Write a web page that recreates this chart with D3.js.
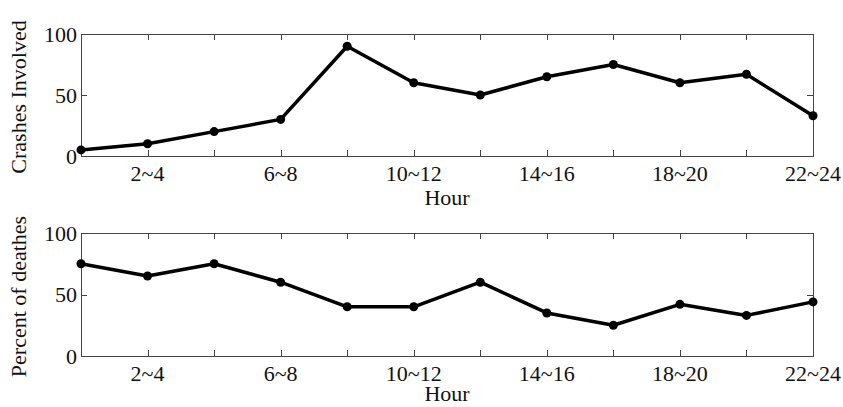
<!DOCTYPE html>
<html lang="en">
<head>
    <meta charset="UTF-8">
    <title>Crashes by hour</title>
    <script src="https://d3js.org/d3.v7.min.js"></script>
    <style>
        body { margin: 0; background: #fff; }
        svg { display: block; font-family: "Liberation Serif", "Times New Roman", serif; }
        .frame { fill: none; stroke: #444; stroke-width: 1px; }
        .tick-mark { stroke: #444; stroke-width: 1px; }
        .series { fill: none; stroke: #000; stroke-width: 3.5px; stroke-linejoin: round; }
        .dot { fill: #000; }
        text { fill: #111; font-size: 22px; }
    </style>
</head>
<body>
    <svg id="svg" width="843" height="407"></svg>
    <script>
        // hour bins, labels shown on every other one
        const hours = ["0~2", "2~4", "4~6", "6~8", "8~10", "10~12", "12~14", "14~16", "16~18", "18~20", "20~22", "22~24"];
        const shownLabels = ["2~4", "6~8", "10~12", "14~16", "18~20", "22~24"];
        const yTicks = [0, 50, 100];

        const crashes = [5, 10, 20, 30, 90, 60, 50, 65, 75, 60, 67, 33];
        const deaths = [75, 65, 75, 60, 40, 40, 60, 35, 25, 42, 33, 44];

        const svg = d3.select("#svg");

        const left = 81, right = 813;

        const x = d3.scalePoint()
            .domain(hours)
            .range([left, right]);

        const panels = [
            {values: crashes, label: "Crashes Involved", top: 34, bottom: 156, hourY: 205},
            {values: deaths, label: "Percent of deathes", top: 233, bottom: 356, hourY: 401}
        ];

        panels.forEach(p => {
            const y = d3.scaleLinear().domain([0, 100]).range([p.bottom, p.top]);
            const g = svg.append("g");

            // frame
            g.append("rect")
                .attr("class", "frame")
                .attr("x", left + 0.5)
                .attr("y", p.top + 0.5)
                .attr("width", right - left)
                .attr("height", p.bottom - p.top);

            // x ticks, inward on top and bottom
            hours.forEach(h => {
                const px = Math.round(x(h)) + 0.5;
                g.append("line").attr("class", "tick-mark")
                    .attr("x1", px).attr("x2", px)
                    .attr("y1", p.bottom).attr("y2", p.bottom - 6);
                g.append("line").attr("class", "tick-mark")
                    .attr("x1", px).attr("x2", px)
                    .attr("y1", p.top).attr("y2", p.top + 6);
            });

            // y ticks, inward on left and right
            yTicks.forEach(t => {
                const py = Math.round(y(t)) + 0.5;
                g.append("line").attr("class", "tick-mark")
                    .attr("x1", left).attr("x2", left + 6)
                    .attr("y1", py).attr("y2", py);
                g.append("line").attr("class", "tick-mark")
                    .attr("x1", right).attr("x2", right - 6)
                    .attr("y1", py).attr("y2", py);
                g.append("text")
                    .attr("x", left - 4)
                    .attr("y", y(t))
                    .attr("dy", "0.35em")
                    .attr("text-anchor", "end")
                    .text(t);
            });

            // x tick labels
            g.selectAll(".xlab")
                .data(shownLabels)
                .enter().append("text")
                .attr("class", "xlab")
                .attr("x", d => x(d))
                .attr("y", p.bottom + 25)
                .attr("text-anchor", "middle")
                .text(d => d);

            g.append("text")
                .attr("x", (left + right) / 2)
                .attr("y", p.hourY)
                .attr("text-anchor", "middle")
                .text("Hour");

            g.append("text")
                .attr("transform", `translate(26,${(p.top + p.bottom) / 2 + 2}) rotate(-90)`)
                .attr("text-anchor", "middle")
                .text(p.label);

            // series line and markers
            const line = d3.line()
                .x((d, i) => x(hours[i]))
                .y(d => y(d));

            g.append("path")
                .datum(p.values)
                .attr("class", "series")
                .attr("d", line);

            g.selectAll(".dot")
                .data(p.values)
                .enter().append("circle")
                .attr("class", "dot")
                .attr("cx", (d, i) => x(hours[i]))
                .attr("cy", d => y(d))
                .attr("r", 4.5);
        });
    </script>
</body>
</html>
